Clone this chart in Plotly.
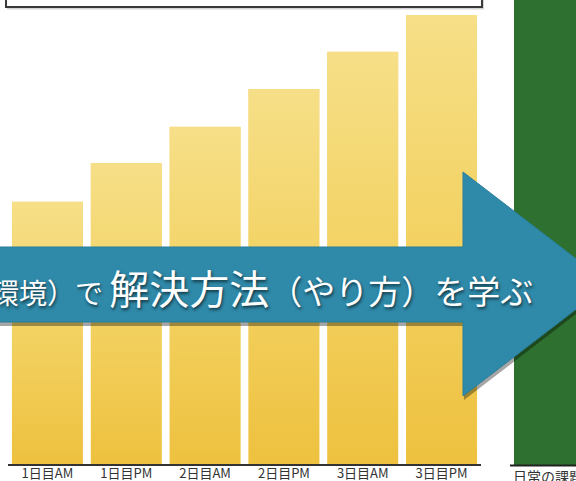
import base64
import plotly.graph_objects as go

# ---- data ----
categories = ["1日目AM", "1日目PM", "2日目AM", "2日目PM", "3日目AM", "3日目PM"]
values = [58.4, 67.0, 75.1, 83.5, 91.8, 100.0]
arrow_text_small = "環境）で "
arrow_text_big = "解決方法"
arrow_text_tail = "（やり方）を学ぶ"
side_label = "日常の課題"

# ---- layout geometry (pixels) ----
W, H = 576, 481
ML, MR, MT, MB = 8, 95, 15, 17
PW = W - ML - MR
PH = H - MT - MB


def px(x):
    return (x - ML) / PW


def py(y):
    return (H - MB - y) / PH


FONT = "Noto Sans CJK JP"

fig = go.Figure()
fig.add_trace(go.Bar(
    x=list(range(len(categories))),
    y=values,
    marker=dict(color="#f2d062", line=dict(width=0)),
    hoverinfo="skip",
))

# gold gradient texture for each bar (placed from the data)
svg = ('<svg xmlns="http://www.w3.org/2000/svg" width="10" height="100" '
       'viewBox="0 0 10 100" preserveAspectRatio="none">'
       '<defs><linearGradient id="g" x1="0" y1="0" x2="0" y2="1">'
       '<stop offset="0" stop-color="#f6df88"/>'
       '<stop offset="0.5" stop-color="#f3d262"/>'
       '<stop offset="1" stop-color="#eec13f"/>'
       '</linearGradient></defs>'
       '<rect width="10" height="100" fill="url(#g)"/></svg>')
src = "data:image/svg+xml;base64," + base64.b64encode(svg.encode()).decode()
bw = 1 - 0.1
images = []
for i, v in enumerate(values):
    images.append(dict(source=src, xref="x", yref="y", x=i - bw / 2, y=v,
                       sizex=bw, sizey=v, xanchor="left", yanchor="top",
                       sizing="stretch", layer="above"))


def path(points):
    return "M " + " L ".join(f"{px(a):.5f},{py(b):.5f}" for a, b in points) + " Z"


arrow_pts = [(-30, 247), (463, 247), (463, 172), (609, 284),
             (463, 396), (463, 322), (-30, 322)]
shadow_pts = [(a + 1, b + 4) for a, b in arrow_pts]

shapes = [
    # top box shadow + box
    dict(type="rect", xref="paper", yref="paper", x0=px(7), x1=px(484),
         y0=py(-20), y1=py(9.5), fillcolor="#d4d4d4", line=dict(width=0), layer="above"),
    dict(type="rect", xref="paper", yref="paper", x0=px(6), x1=px(482),
         y0=py(-20), y1=py(7), fillcolor="white",
         line=dict(color="#3a3a3a", width=2), layer="above"),
    # green panel
    dict(type="rect", xref="paper", yref="paper", x0=px(514), x1=px(600),
         y0=py(465), y1=py(-10), fillcolor="#2e702f", line=dict(width=0), layer="above"),
    dict(type="line", xref="paper", yref="paper", x0=px(510), x1=px(600),
         y0=py(465.5), y1=py(465.5), line=dict(color="#222222", width=2), layer="above"),
    # arrow shadow + arrow
    dict(type="path", xref="paper", yref="paper", path=path(shadow_pts),
         fillcolor="rgba(0,0,0,0.35)", line=dict(width=0), layer="above"),
    dict(type="path", xref="paper", yref="paper", path=path(arrow_pts),
         fillcolor="#2f89a8", line=dict(color="#2a7f9c", width=1), layer="above"),
]

annotations = [
    dict(xref="paper", yref="paper", x=px(535), y=py(287), xanchor="right",
         yanchor="middle", showarrow=False,
         text=(f'<span style="font-size:28px">{arrow_text_small}</span>'
               f'<span style="font-size:40px">{arrow_text_big}</span>'
               f'<span style="font-size:33px">{arrow_text_tail}</span>'),
         font=dict(family=FONT, size=33, color="white",
                   shadow="1px 2px 3px rgba(0,0,0,0.6)")),
    dict(xref="paper", yref="paper", x=px(511), y=py(476), xanchor="left",
         yanchor="middle", showarrow=False, text=side_label,
         font=dict(family=FONT, size=14, color="#333333")),
]

fig.update_layout(
    width=W, height=H,
    margin=dict(l=ML, r=MR, t=MT, b=MB, pad=0, autoexpand=False),
    paper_bgcolor="white", plot_bgcolor="white",
    bargap=0.1,
    showlegend=False,
    shapes=shapes,
    annotations=annotations,
    images=images,
    xaxis=dict(range=[-0.5, len(categories) - 0.5], tickmode="array",
               tickvals=list(range(len(categories))), ticktext=categories,
               tickfont=dict(family=FONT, size=13, color="#333333"),
               ticklabelstandoff=-4,
               showline=True, linecolor="#333333", linewidth=2,
               showgrid=False, zeroline=False, ticks="", ticklen=0,
               automargin=False, fixedrange=True),
    yaxis=dict(range=[0, 100], visible=False, showgrid=False, zeroline=False,
               automargin=False, fixedrange=True),
)

fig.write_html("out.html", config={"displayModeBar": False})
